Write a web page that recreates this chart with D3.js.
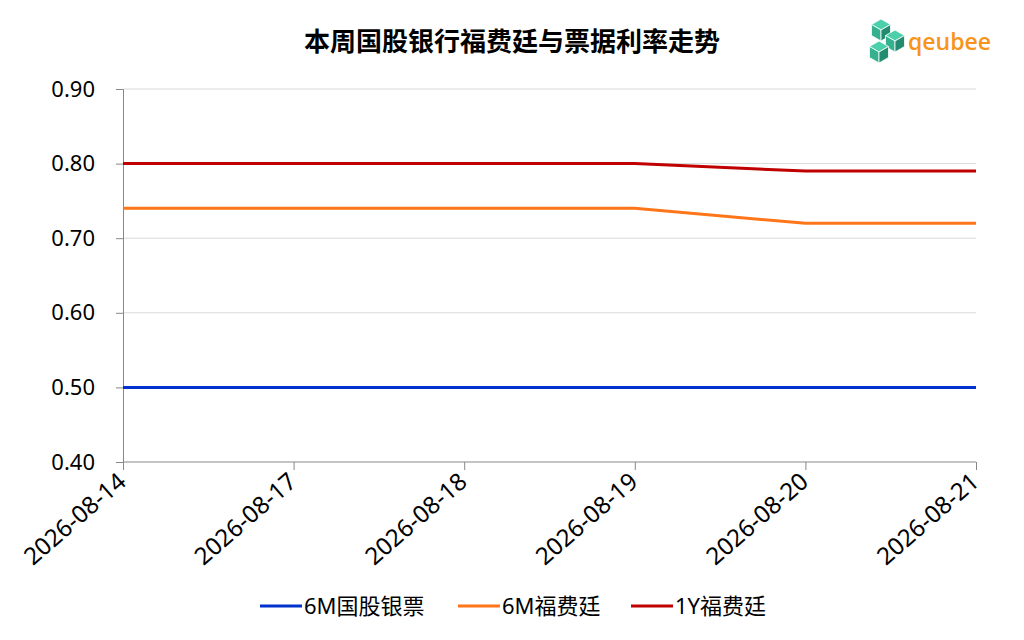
<!DOCTYPE html>
<html lang="zh">
<head>
<meta charset="utf-8">
<script src="https://d3js.org/d3.v7.min.js"></script>
<style>
body { margin: 0; background: #fff; }
text { font-family: "Noto Sans", "Noto Sans CJK SC", sans-serif; }
</style>
</head>
<body>
</body>
<script type="text/javascript">

var dates = ["2026-08-14", "2026-08-17", "2026-08-18", "2026-08-19", "2026-08-20", "2026-08-21"]
var yTicks = [0.40, 0.50, 0.60, 0.70, 0.80, 0.90]
var seriesNames = ["6M国股银票", "6M福费廷", "1Y福费廷"]
var seriesColors = ["#0033cc", "#ff7519", "#c00000"]
var bankBill6M = [0.50, 0.50, 0.50, 0.50, 0.50, 0.50]
var forfait6M = [0.74, 0.74, 0.74, 0.74, 0.72, 0.72]
var forfait1Y = [0.80, 0.80, 0.80, 0.80, 0.79, 0.79]
var seriesValues = [bankBill6M, forfait6M, forfait1Y]

var svg = d3.select("body")
  .append("svg")
  .attr("width", 1024)
  .attr("height", 640)

var plotLeft = 123, plotRight = 976, plotTop = 89, plotBottom = 462

var x = d3.scalePoint().domain(dates).range([plotLeft, plotRight])
var y = d3.scaleLinear().domain([0.40, 0.90]).range([plotBottom, plotTop])

// title
svg.append("text")
  .attr("x", 512).attr("y", 51)
  .attr("text-anchor", "middle")
  .style("font-family", '"Noto Sans CJK SC", sans-serif')
  .style("font-weight", "bold")
  .style("font-size", "26px")
  .attr("fill", "#000")
  .text("本周国股银行福费廷与票据利率走势")

// gridlines
svg.append("g").selectAll("line")
  .data(yTicks.slice(1))
  .enter().append("line")
  .attr("x1", plotLeft).attr("x2", plotRight)
  .attr("y1", d => y(d)).attr("y2", d => y(d))
  .attr("stroke", "#d9d9d9").attr("stroke-width", 1)

// y axis
var yAxis = svg.append("g")
  .attr("transform", "translate(" + plotLeft + ",0)")
  .call(d3.axisLeft(y).tickValues(yTicks).tickFormat(d3.format(".2f")).tickSize(7).tickPadding(21))
yAxis.select(".domain").attr("stroke", "#888")
yAxis.selectAll(".tick line").attr("stroke", "#888")
yAxis.selectAll(".tick text")
  .style("font-size", "22px").attr("fill", "#000")
  .style("font-family", '"Noto Sans", sans-serif')

// x axis
var xAxis = svg.append("g")
  .attr("transform", "translate(0," + plotBottom + ")")
  .call(d3.axisBottom(x).tickSize(8).tickSizeOuter(0))
xAxis.select(".domain").attr("stroke", "#888").attr("d", "M" + plotLeft + ",0H" + plotRight)
xAxis.selectAll(".tick line").attr("stroke", "#888")
xAxis.selectAll(".tick text")
  .style("font-size", "24px").attr("fill", "#000")
  .style("font-family", '"Noto Sans", sans-serif')
  .attr("text-anchor", "end")
  .attr("y", 0)
  .attr("dy", "0")
  .attr("transform", "translate(4,22) rotate(-41)")

// lines
var line = d3.line()
  .x((d, i) => x(dates[i]))
  .y(d => y(d))

svg.append("g").selectAll("path")
  .data(seriesValues)
  .enter().append("path")
  .attr("d", d => line(d))
  .attr("fill", "none")
  .attr("stroke", (d, i) => seriesColors[i])
  .attr("stroke-width", 3)

// legend
var legendX = [260, 458, 631]
var legend = svg.append("g").selectAll("g")
  .data(seriesNames)
  .enter().append("g")
  .attr("transform", (d, i) => "translate(" + legendX[i] + ",606)")
legend.append("line")
  .attr("x1", 0).attr("x2", 42).attr("y1", 0).attr("y2", 0)
  .attr("stroke", (d, i) => seriesColors[i])
  .attr("stroke-width", 3)
legend.append("text")
  .attr("x", 44).attr("y", 8)
  .style("font-size", "22px")
  .style("font-family", '"Noto Sans", "Noto Sans CJK SC", sans-serif')
  .attr("fill", "#000")
  .text(d => d)

// logo
function hexCube(g, cx, cy, r) {
  var h = r * Math.sqrt(3) / 2
  var faces = [
    ["M", cx, cy, "L", cx - h, cy - r / 2, "L", cx, cy - r, "L", cx + h, cy - r / 2, "Z"],
    ["M", cx, cy, "L", cx - h, cy - r / 2, "L", cx - h, cy + r / 2, "L", cx, cy + r, "Z"],
    ["M", cx, cy, "L", cx + h, cy - r / 2, "L", cx + h, cy + r / 2, "L", cx, cy + r, "Z"]
  ]
  var cols = ["#4cd0ab", "#36b18f", "#228b70"]
  faces.forEach(function (f, i) {
    g.append("path").attr("d", f.join(" ")).attr("fill", cols[i])
      .attr("stroke", "#fff").attr("stroke-width", 0.8)
  })
}
var logo = svg.append("g")
hexCube(logo, 881, 30, 11)
hexCube(logo, 895, 41, 11)
hexCube(logo, 879, 52, 11)
svg.append("text")
  .attr("x", 908).attr("y", 50)
  .style("font-family", '"Open Sans", sans-serif')
  .style("font-size", "23px")
  .style("font-weight", "600")
  .attr("fill", "#f7941d")
  .text("qeubee")

</script>
</html>
